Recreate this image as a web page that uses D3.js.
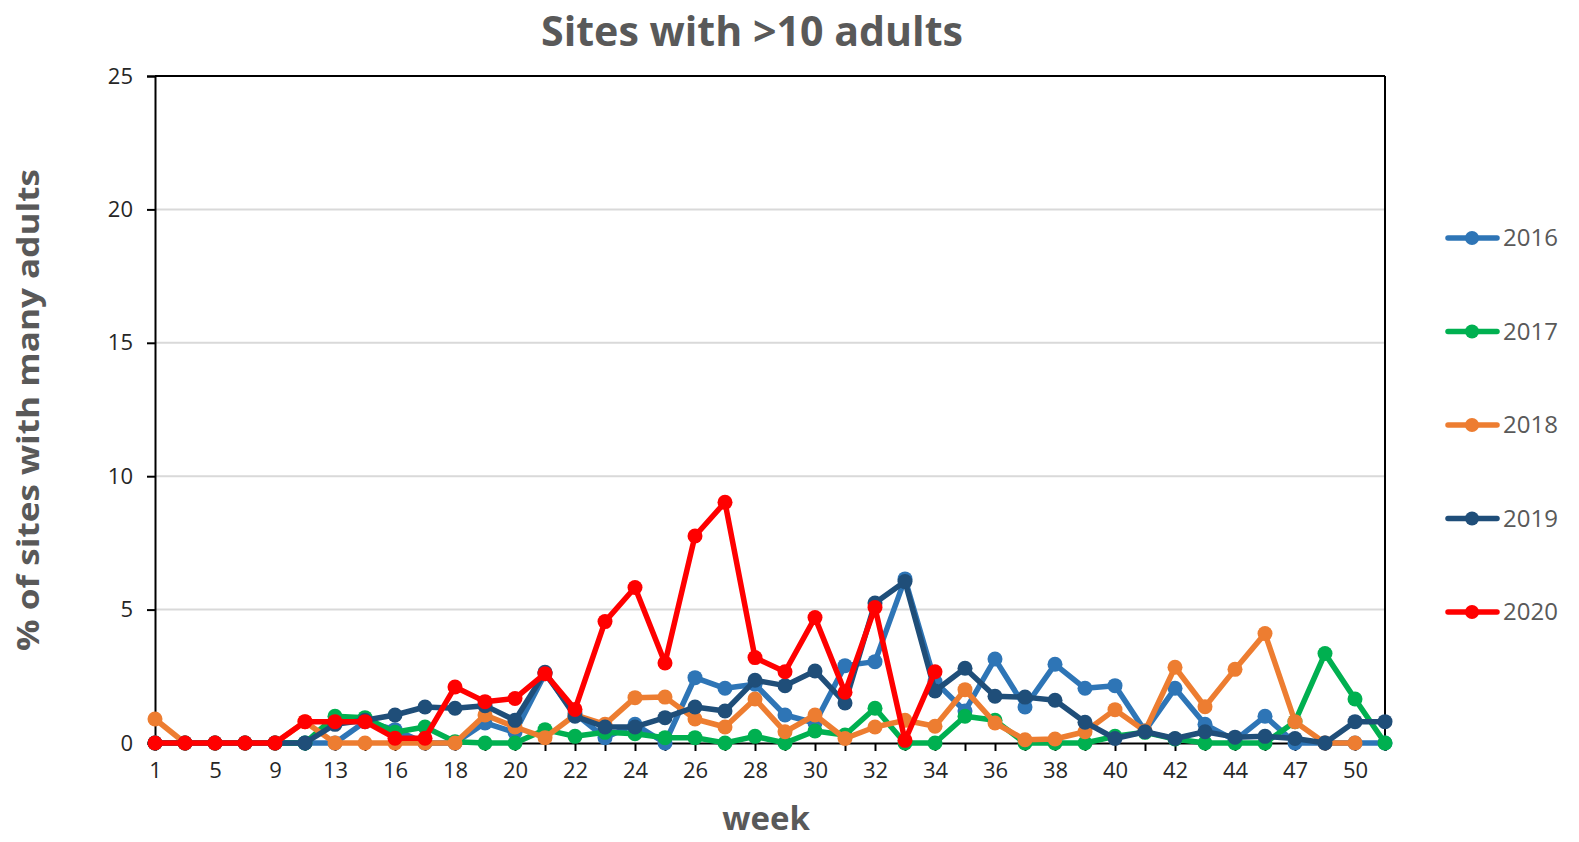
<!DOCTYPE html>
<html>
<head>
<meta charset="utf-8">
<script src="https://cdn.jsdelivr.net/npm/d3@7"></script>
<style>
  body { margin: 0; background: #fff; }
  text { font-family: "Open Sans", sans-serif; }
</style>
</head>
<body>
<div id="chart"></div>
<script>
// weeks on the category axis (only every other one is labelled)
const weeks = [1, 3, 5, 7, 9, 11, 13, 14, 16, 17, 18, 19, 20, 21, 22, 23, 24, 25, 26, 27, 28,
    29, 30, 31, 32, 33, 34, 35, 36, 37, 38, 39, 40, 41, 42, 43, 44, 45, 47, 48, 50, 51];

const years = ["2016", "2017", "2018", "2019", "2020"];

const y2016 = [0, 0, 0, 0, 0, 0, 0, 0.8, 0.5, 0, 0, 0.75, 0.4, 2.6, 1.1, 0.2, 0.7, 0, 2.45, 2.05, 2.2,
    1.05, 0.75, 2.9, 3.05, 6.15, 2.3, 1.2, 3.15, 1.35, 2.95, 2.05, 2.15, 0.45, 2.05, 0.7, 0.1, 1.0, 0, 0, 0, 0];
const y2017 = [0, 0, 0, 0, 0, 0, 1.0, 0.95, 0.4, 0.6, 0.05, 0, 0, 0.5, 0.25, 0.4, 0.35, 0.2, 0.2, 0, 0.25,
    0, 0.45, 0.3, 1.3, 0, 0, 1.0, 0.85, 0, 0, 0, 0.25, 0.4, 0.15, 0, 0, 0, 0.8, 3.35, 1.65, 0];
const y2018 = [0.9, 0, 0, 0, 0, 0.8, 0, 0, 0, 0, 0, 1.05, 0.6, 0.2, 1.05, 0.7, 1.7, 1.72, 0.9, 0.6, 1.65,
    0.42, 1.05, 0.17, 0.6, 0.85, 0.63, 2.0, 0.75, 0.12, 0.15, 0.42, 1.25, 0.45, 2.84, 1.36, 2.76, 4.1, 0.8, 0, 0, null];
const y2019 = [0, 0, 0, 0, 0, 0, 0.7, 0.85, 1.05, 1.35, 1.3, 1.4, 0.85, 2.65, 1.0, 0.6, 0.6, 0.95, 1.35, 1.2, 2.35,
    2.15, 2.7, 1.5, 5.25, 6.05, 1.95, 2.8, 1.75, 1.72, 1.6, 0.78, 0.17, 0.42, 0.17, 0.42, 0.22, 0.25, 0.17, 0, 0.8, 0.8];
const y2020 = [0, 0, 0, 0, 0, 0.8, 0.8, 0.8, 0.18, 0.18, 2.1, 1.55, 1.67, 2.6, 1.26, 4.55, 5.83, 3.0, 7.76, 9.02, 3.2,
    2.67, 4.7, 1.9, 5.08, 0.1, 2.67];

const yTicks = [0, 5, 10, 15, 20, 25];

const colors = ["#2e75b6", "#00b050", "#ed7d31", "#1f4e79", "#ff0000"];
const seriesValues = [y2016, y2017, y2018, y2019, y2020];

const width = 1579, height = 842;
const margin = {top: 76, right: 194, bottom: 99, left: 155};

let svg = d3.select("#chart").append("svg")
    .attr("width", width)
    .attr("height", height);

let xScale = d3.scalePoint()
    .domain(weeks)
    .range([margin.left, width - margin.right]);
let yScale = d3.scaleLinear()
    .domain([0, 25])
    .range([height - margin.bottom, margin.top]);

// gridlines
svg.append("g").selectAll("line").data(yTicks.filter(d => d > 0 && d < 25)).enter().append("line")
    .attr("x1", margin.left)
    .attr("x2", width - margin.right)
    .attr("y1", d => yScale(d))
    .attr("y2", d => yScale(d))
    .attr("stroke", "#d9d9d9")
    .attr("stroke-width", 2);

// frame: top and right
svg.append("line")
    .attr("x1", margin.left).attr("x2", width - margin.right)
    .attr("y1", yScale(25)).attr("y2", yScale(25))
    .attr("stroke", "#000").attr("stroke-width", 2);
svg.append("line")
    .attr("x1", width - margin.right).attr("x2", width - margin.right)
    .attr("y1", yScale(25)).attr("y2", yScale(0))
    .attr("stroke", "#000").attr("stroke-width", 2);

// y axis
let yAxis = svg.append("g")
    .attr("transform", "translate(" + margin.left + ",0)")
    .call(d3.axisLeft(yScale).tickValues(yTicks).tickSize(8).tickPadding(14));
yAxis.select(".domain").attr("stroke", "#000").attr("stroke-width", 2);
yAxis.selectAll(".tick line").attr("stroke", "#000").attr("stroke-width", 2);
yAxis.selectAll("text").attr("font-size", 22).attr("fill", "#262626").style("font-family", "Open Sans");

// x axis, label every other week
let xAxis = svg.append("g")
    .attr("transform", "translate(0," + yScale(0) + ")")
    .call(d3.axisBottom(xScale).tickSize(8).tickPadding(11)
        .tickFormat((d, i) => i % 2 === 0 ? d : ""));
xAxis.select(".domain").attr("stroke", "#000").attr("stroke-width", 2);
xAxis.selectAll(".tick line").attr("stroke", "#000").attr("stroke-width", 2);
xAxis.selectAll("text").attr("font-size", 22).attr("fill", "#262626").style("font-family", "Open Sans");

// series
let line = d3.line()
    .defined(d => d.v !== null && d.v !== undefined)
    .x(d => xScale(d.w))
    .y(d => yScale(d.v));

for (let s = 0; s < years.length; s++) {
    let pts = weeks.map((w, i) => ({w: w, v: seriesValues[s][i]}));
    let g = svg.append("g");
    g.append("path")
        .datum(pts)
        .attr("d", line)
        .attr("fill", "none")
        .attr("stroke", colors[s])
        .attr("stroke-width", 5.5)
        .attr("stroke-linejoin", "round");
    g.selectAll("circle").data(pts.filter(d => d.v !== null && d.v !== undefined)).enter().append("circle")
        .attr("cx", d => xScale(d.w))
        .attr("cy", d => yScale(d.v))
        .attr("r", 7.5)
        .attr("fill", colors[s]);
}

// legend
let legend = svg.append("g");
years.forEach((yr, i) => {
    let ly = 238 + i * 93.5;
    legend.append("line")
        .attr("x1", 1448).attr("x2", 1497)
        .attr("y1", ly).attr("y2", ly)
        .attr("stroke", colors[i]).attr("stroke-width", 5.5)
        .attr("stroke-linecap", "round");
    legend.append("circle")
        .attr("cx", 1472).attr("cy", ly).attr("r", 7)
        .attr("fill", colors[i]);
    legend.append("text")
        .attr("x", 1503).attr("y", ly)
        .attr("dy", "0.35em")
        .attr("font-size", 24)
        .attr("fill", "#595959")
        .text(yr);
});

// titles
svg.append("text")
    .attr("x", 752).attr("y", 46)
    .attr("text-anchor", "middle")
    .attr("font-size", 42)
    .attr("font-weight", "bold")
    .attr("fill", "#595959")
    .attr("textLength", 422)
    .attr("lengthAdjust", "spacingAndGlyphs")
    .text("Sites with >10 adults");

svg.append("text")
    .attr("transform", "translate(39,410) rotate(-90)")
    .attr("text-anchor", "middle")
    .attr("font-size", 31)
    .attr("font-weight", "bold")
    .attr("fill", "#595959")
    .attr("textLength", 482)
    .attr("lengthAdjust", "spacingAndGlyphs")
    .text("% of sites with many adults");

svg.append("text")
    .attr("x", 766).attr("y", 830)
    .attr("text-anchor", "middle")
    .attr("font-size", 33)
    .attr("font-weight", "bold")
    .attr("fill", "#595959")
    .text("week");
</script>
</body>
</html>
